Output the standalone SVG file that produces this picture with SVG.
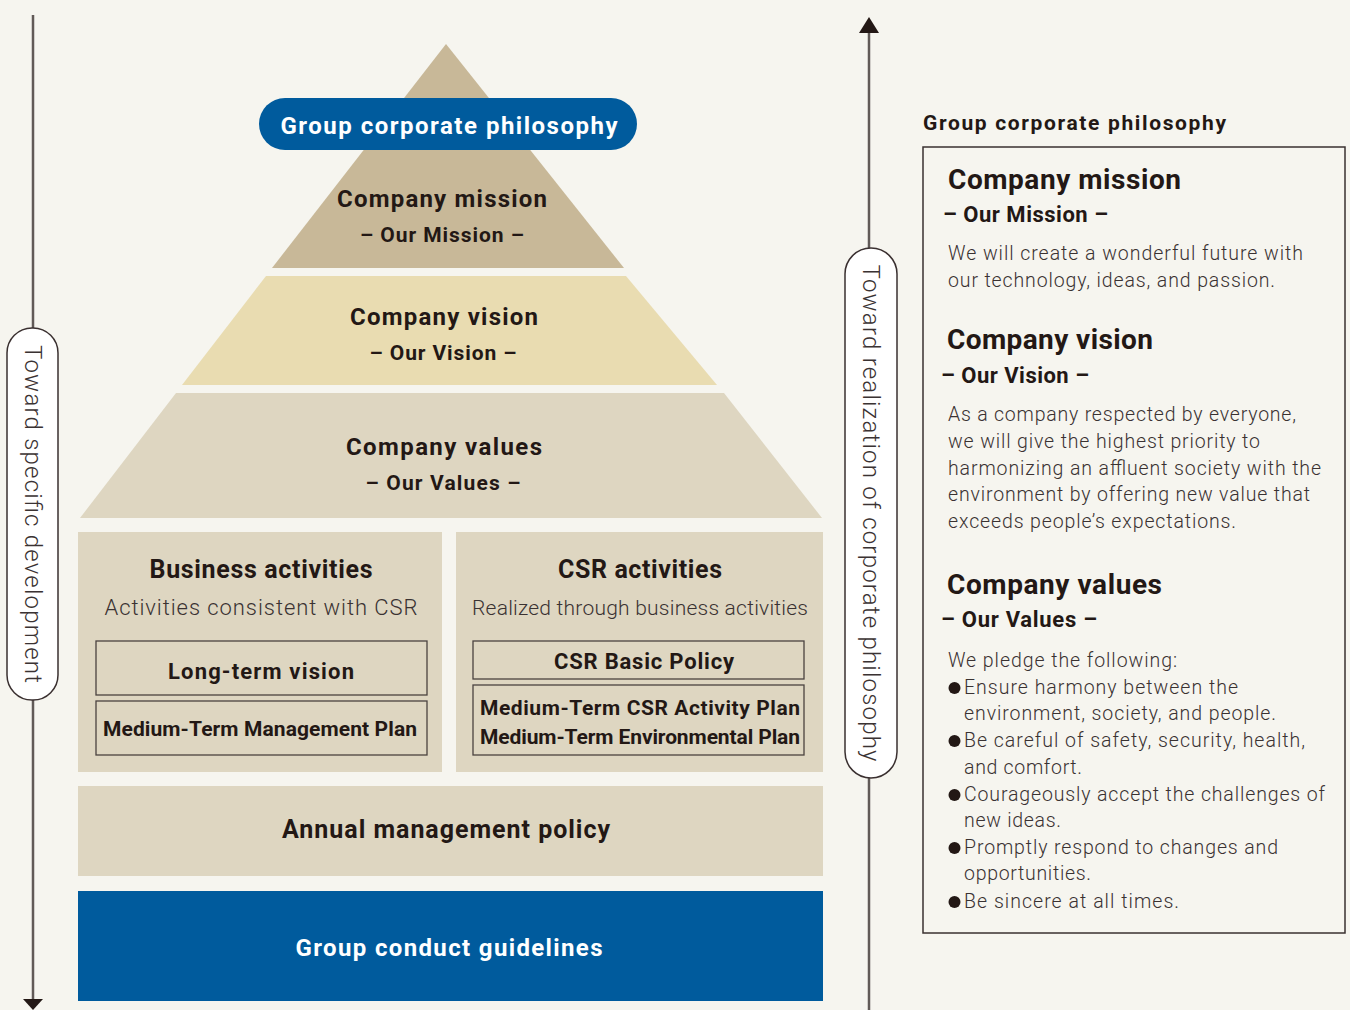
<svg xmlns="http://www.w3.org/2000/svg" width="1350" height="1010" viewBox="0 0 1350 1010">
<defs>
<style>
.b{font-family:Roboto,"Liberation Sans",sans-serif;font-weight:700;fill:#231815}
.l{font-family:Roboto,"Liberation Sans",sans-serif;font-weight:300;fill:#3a3232}
.w{fill:#ffffff}
.c{text-anchor:middle}
.inner{fill:none;stroke:#4a4240;stroke-width:1.3}
.axis{stroke:#615a57;stroke-width:2.5;fill:none}
.pill{fill:#ffffff;stroke:#3a3030;stroke-width:1.5}
</style>
</defs>
<rect width="1350" height="1010" fill="#f6f5ef"/>

<g id="axes">
<line class="axis" x1="33" y1="15" x2="33" y2="1000"/>
<polygon points="23,999 43,999 33,1010" fill="#231815"/>
<line class="axis" x1="869" y1="30" x2="869" y2="1010"/>
<polygon points="859,33 879,33 869,17" fill="#231815"/>
</g>

<g id="axis-left-label">
<rect class="pill" x="7" y="328" width="51" height="372" rx="25"/>
<text class="l" font-size="24" transform="translate(33,514) rotate(90)" text-anchor="middle" dominant-baseline="central" textLength="338" lengthAdjust="spacing">Toward specific development</text>
</g>
<g id="axis-right-label">
<rect class="pill" x="845" y="248" width="52" height="530" rx="26"/>
<text class="l" font-size="24" transform="translate(871,513) rotate(90)" text-anchor="middle" dominant-baseline="central" textLength="497" lengthAdjust="spacing">Toward realization of corporate philosophy</text>
</g>

<g id="mission">
<polygon points="446,44 624,268 272,268" fill="#c8b898"/>
<text class="b c" x="442" y="207" font-size="24" textLength="210" lengthAdjust="spacing">Company mission</text>
<text class="b c" x="442" y="242" font-size="21" textLength="164" lengthAdjust="spacing">– Our Mission –</text>
</g>
<g id="philosophy-pill">
<rect x="259" y="98" width="378" height="52" rx="26" fill="#005b9d"/>
<text class="b w c" x="449" y="134" font-size="24" textLength="337" lengthAdjust="spacing">Group corporate philosophy</text>
</g>
<g id="vision">
<polygon points="266,276 626,276 717,385 182,385" fill="#e9dcb1"/>
<text class="b c" x="444" y="325" font-size="24" textLength="188" lengthAdjust="spacing">Company vision</text>
<text class="b c" x="443" y="360" font-size="21" textLength="147" lengthAdjust="spacing">– Our Vision –</text>
</g>
<g id="values">
<polygon points="176,393 724,393 822,518 80,518" fill="#ded6c1"/>
<text class="b c" x="444" y="455" font-size="24" textLength="196" lengthAdjust="spacing">Company values</text>
<text class="b c" x="443" y="490" font-size="21" textLength="155" lengthAdjust="spacing">– Our Values –</text>
</g>

<g id="business">
<rect x="78" y="532" width="364" height="240" fill="#ded6c1"/>
<text class="b c" x="261" y="578" font-size="25" textLength="223" lengthAdjust="spacing">Business activities</text>
<text class="l c" x="261" y="615" font-size="22" textLength="313" lengthAdjust="spacing">Activities consistent with CSR</text>
<rect class="inner" x="96" y="641" width="331" height="54"/>
<text class="b c" x="261" y="679" font-size="22" textLength="186" lengthAdjust="spacing">Long-term vision</text>
<rect class="inner" x="96" y="701" width="331" height="54"/>
<text class="b c" x="260" y="736" font-size="21" textLength="314" lengthAdjust="spacing">Medium-Term Management Plan</text>
</g>
<g id="csr">
<rect x="456" y="532" width="367" height="240" fill="#ded6c1"/>
<text class="b c" x="640" y="578" font-size="25" textLength="164" lengthAdjust="spacing">CSR activities</text>
<text class="l c" x="640" y="615" font-size="21" textLength="336" lengthAdjust="spacing">Realized through business activities</text>
<rect class="inner" x="473" y="641" width="331" height="38"/>
<text class="b c" x="644" y="669" font-size="22" textLength="180" lengthAdjust="spacing">CSR Basic Policy</text>
<rect class="inner" x="473" y="685" width="331" height="70"/>
<text class="b c" x="640" y="715" font-size="21" textLength="320" lengthAdjust="spacing">Medium-Term CSR Activity Plan</text>
<text class="b c" x="640" y="744" font-size="21" textLength="320" lengthAdjust="spacing">Medium-Term Environmental Plan</text>
</g>
<g id="annual">
<rect x="78" y="786" width="745" height="90" fill="#ded6c1"/>
<text class="b c" x="446" y="838" font-size="25" textLength="328" lengthAdjust="spacing">Annual management policy</text>
</g>
<g id="conduct">
<rect x="78" y="891" width="745" height="110" fill="#005b9d"/>
<text class="b w c" x="449" y="956" font-size="24" textLength="307" lengthAdjust="spacing">Group conduct guidelines</text>
</g>

<g id="panel">
<text class="b" x="923" y="130" font-size="21" textLength="303" lengthAdjust="spacing">Group corporate philosophy</text>
<rect x="923" y="147" width="422" height="786" fill="none" stroke="#3a3030" stroke-width="1.5"/>
<text class="b" x="948" y="189" font-size="28" textLength="233" lengthAdjust="spacing">Company mission</text>
<text class="b" x="943" y="222" font-size="22" textLength="165" lengthAdjust="spacing">– Our Mission –</text>
<text class="l" x="948" y="260" font-size="19.5" textLength="355" lengthAdjust="spacing">We will create a wonderful future with</text>
<text class="l" x="948" y="287" font-size="19.5" textLength="327" lengthAdjust="spacing">our technology, ideas, and passion.</text>
<text class="b" x="947" y="349" font-size="28" textLength="206" lengthAdjust="spacing">Company vision</text>
<text class="b" x="941" y="383" font-size="22" textLength="148" lengthAdjust="spacing">– Our Vision –</text>
<text class="l" x="948" y="421" font-size="19.5" textLength="348" lengthAdjust="spacing">As a company respected by everyone,</text>
<text class="l" x="948" y="448" font-size="19.5" textLength="312" lengthAdjust="spacing">we will give the highest priority to</text>
<text class="l" x="948" y="475" font-size="19.5" textLength="373" lengthAdjust="spacing">harmonizing an affluent society with the</text>
<text class="l" x="948" y="501" font-size="19.5" textLength="362" lengthAdjust="spacing">environment by offering new value that</text>
<text class="l" x="948" y="528" font-size="19.5" textLength="288" lengthAdjust="spacing">exceeds people’s expectations.</text>
<text class="b" x="947" y="594" font-size="28" textLength="215" lengthAdjust="spacing">Company values</text>
<text class="b" x="941" y="627" font-size="22" textLength="156" lengthAdjust="spacing">– Our Values –</text>
<text class="l" x="948" y="667" font-size="19.5" textLength="229" lengthAdjust="spacing">We pledge the following:</text>
<text class="l" x="964" y="694" font-size="19.5" textLength="274" lengthAdjust="spacing">Ensure harmony between the</text>
<text class="l" x="964" y="720" font-size="19.5" textLength="312" lengthAdjust="spacing">environment, society, and people.</text>
<text class="l" x="964" y="747" font-size="19.5" textLength="341" lengthAdjust="spacing">Be careful of safety, security, health,</text>
<text class="l" x="964" y="774" font-size="19.5" textLength="118" lengthAdjust="spacing">and comfort.</text>
<text class="l" x="964" y="801" font-size="19.5" textLength="361" lengthAdjust="spacing">Courageously accept the challenges of</text>
<text class="l" x="964" y="827" font-size="19.5" textLength="97" lengthAdjust="spacing">new ideas.</text>
<text class="l" x="964" y="854" font-size="19.5" textLength="314" lengthAdjust="spacing">Promptly respond to changes and</text>
<text class="l" x="964" y="880" font-size="19.5" textLength="127" lengthAdjust="spacing">opportunities.</text>
<text class="l" x="964" y="908" font-size="19.5" textLength="215" lengthAdjust="spacing">Be sincere at all times.</text>
<g fill="#231815"><circle cx="954.5" cy="688" r="6"/><circle cx="954.5" cy="741" r="6"/><circle cx="954.5" cy="795" r="6"/><circle cx="954.5" cy="848" r="6"/><circle cx="954.5" cy="902" r="6"/></g>
</g>
</svg>
